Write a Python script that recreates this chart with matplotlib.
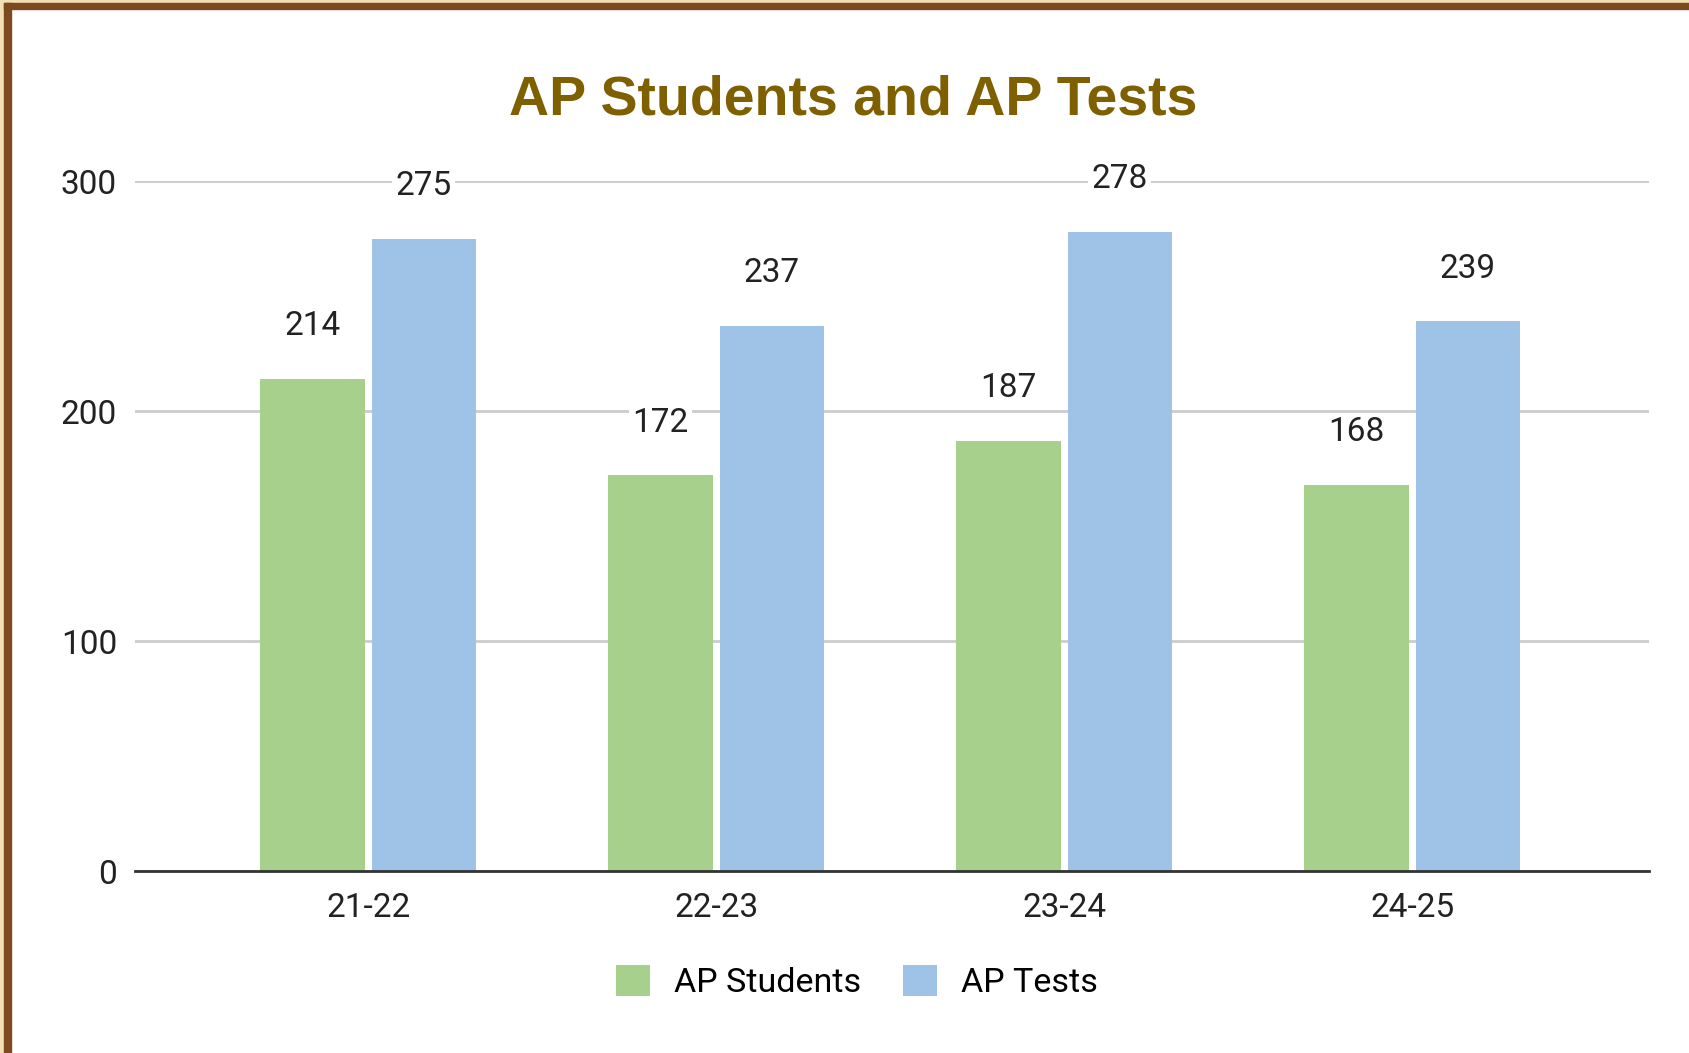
import matplotlib
matplotlib.use("Agg")
import matplotlib.pyplot as plt
from matplotlib.patches import Rectangle
import numpy as np

years = ["21-22", "22-23", "23-24", "24-25"]
ap_students = [214, 172, 187, 168]
ap_tests = [275, 237, 278, 239]

green = "#a8d08d"
blue = "#9fc2e7"

plt.rcParams['font.family'] = ['Roboto', 'DejaVu Sans']

fig = plt.figure(figsize=(16.9, 10.53), dpi=100)
ax = fig.add_axes([0.0799, 0.1728, 0.8958, 0.6553])

x = np.arange(len(years))
w = 0.30
b1 = ax.bar(x - 0.16, ap_students, w, color=green, label="AP Students", zorder=3)
b2 = ax.bar(x + 0.16, ap_tests, w, color=blue, label="AP Tests", zorder=3)

for bars in (b1, b2):
    for rect in bars:
        h = rect.get_height()
        ax.annotate(f"{h:.0f}", (rect.get_x() + rect.get_width() / 2, h),
                    xytext=(0, 38), textcoords="offset points",
                    ha="center", va="center", fontsize=24, color="#222222",
                    bbox=dict(boxstyle="square,pad=0.1", fc="white", ec="none"),
                    zorder=4)

ax.set_ylim(0, 300)
ax.set_xlim(-0.67, 3.68)
ax.set_yticks([0, 100, 200, 300])
ax.set_xticks(x)
ax.set_xticklabels(years)
ax.tick_params(axis="both", length=0, labelsize=24, labelcolor="#222222")
ax.tick_params(axis="y", pad=13)
ax.tick_params(axis="x", pad=15)
ax.grid(axis="y", color="#cccccc", linewidth=2, zorder=0)
for s in ["top", "right", "left"]:
    ax.spines[s].set_visible(False)
ax.spines["bottom"].set_color("#333333")
ax.spines["bottom"].set_linewidth(2)
ax.spines["bottom"].set_zorder(5)

fig.text(0.505, 0.905, "AP Students and AP Tests", ha="center", va="center",
         fontsize=40, fontweight="bold", color="#7f6000",
         family=["Liberation Sans", "DejaVu Sans"])

fig.legend(handles=[b1, b2], loc="center", bbox_to_anchor=(0.507, 0.0674),
           ncol=2, frameon=False, fontsize=24.5, handlelength=1.0, handleheight=1.0,
           handletextpad=0.7, columnspacing=1.25)

# frame strips on left and top
W, H = 1690, 1053
fig.patches.append(Rectangle((0, 0), 4 / W, 1, transform=fig.transFigure, color="#f3dfb4", zorder=10))
fig.patches.append(Rectangle((0, 1 - 3 / H), 1, 3 / H, transform=fig.transFigure, color="#f3dfb4", zorder=10))
fig.patches.append(Rectangle((4 / W, 0), 7 / W, 1 - 3 / H, transform=fig.transFigure, color="#7b4a1e", zorder=11))
fig.patches.append(Rectangle((4 / W, 1 - 8.5 / H), 1, 5.5 / H, transform=fig.transFigure, color="#7b4a1e", zorder=11))

fig.savefig("out.png", dpi=100)
